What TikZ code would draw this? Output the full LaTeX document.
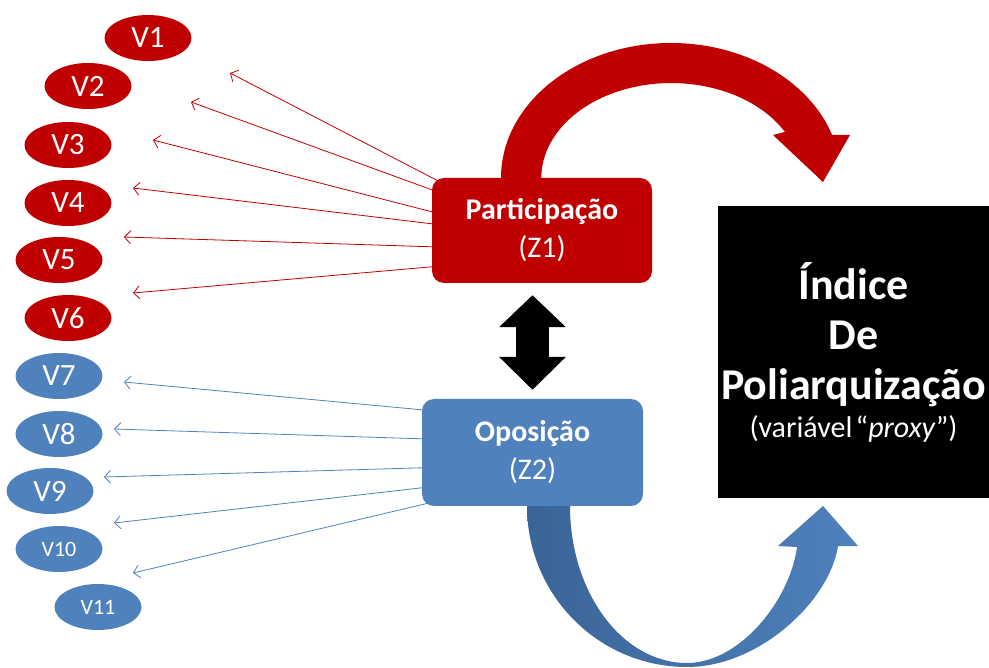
\documentclass[tikz,border=0pt]{standalone}
\usepackage{fontspec}
\setmainfont{Carlito}
\usetikzlibrary{arrows.meta,calc,shapes.geometric}
\definecolor{rd}{HTML}{C00000}
\definecolor{bl}{HTML}{4F81BD}
\definecolor{bldark}{HTML}{3A6496}
\begin{document}
\begin{tikzpicture}[x=1pt,y=-1pt,
  varr/.style={ellipse, fill=rd, text=white, minimum width=87pt, minimum height=46pt, inner sep=0pt, font=\fontsize{31}{31}\selectfont},
  varb/.style={varr, fill=bl},
  varbs/.style={varb, font=\fontsize{22}{22}\selectfont},
  zbox/.style={rounded corners=12pt, text=white, align=center, inner sep=0pt, font=\fontsize{30}{38}\selectfont},
  rline/.style={draw=rd, line width=0.8pt, -{Straight Barb[length=6pt,width=13pt]}},
  bline/.style={rline, draw=bl},
]
\useasboundingbox (0,0) rectangle (989,668);

% curved block arrows (behind boxes)
\fill[rd] (501,178) arc[start angle=180, end angle=341.4, x radius=170, y radius=135]
  -- (850,135) -- (823,182) -- (773,135) -- (785,132)
  arc[start angle=331, end angle=180, x radius=130, y radius=95] -- cycle;
\shade[left color=bldark, right color=bl]
  (527,506) arc[start angle=180, end angle=90, x radius=160, y radius=161]
  .. controls (760,667) and (830,600) .. (838,546)
  -- (858,546) -- (823,506) -- (778,546) -- (797,547)
  .. controls (790,600) and (740,663) .. (687,663)
  arc[start angle=90, end angle=180, x radius=117, y radius=157] -- cycle;

% variables
\node[varr] (V1) at (148,38) {V1};
\node[varr] (V2) at (88,86) {V2};
\node[varr] (V3) at (68,145) {V3};
\node[varr] (V4) at (68,203) {V4};
\node[varr] (V5) at (59,260) {V5};
\node[varr] (V6) at (68,318) {V6};
\node[varb] (V7) at (59,376) {V7};
\node[varb] (V8) at (59,434) {V8};
\node[varb] (V9) at (50,491) {V9};
\node[varbs] (V10) at (59,549) {V10};
\node[varbs] (V11) at (98,607) {V11};

% boxes
\node[zbox, fill=rd, minimum width=220pt, minimum height=105pt, text width=210pt] (Z1) at (542,230.5)
  {\textbf{Participação}\\(Z1)};
\node[zbox, fill=bl, minimum width=221pt, minimum height=107pt, text width=210pt] (Z2) at (532.5,452.5)
  {\textbf{Oposição}\\(Z2)};
\node[fill=black, text=white, minimum width=271pt, minimum height=292pt, inner sep=0pt, text width=268pt, align=center] (IDX) at (853.5,352)
  {{\bfseries\fontsize{44}{50}\selectfont Índice\\De\\Poliarquização\par}{\fontsize{30}{38}\selectfont (variável “\textit{proxy}”)\par}};

% double arrow between Z1 and Z2
\draw[line width=33pt, {Triangle[length=32pt,width=65pt]}-{Triangle[length=33pt,width=65pt]}, shorten <=12pt, shorten >=9pt]
  (Z1.south -| Z2.north) -- (Z2.north);

% connector coordinates
\coordinate (s1) at ($(Z1.north west)+(8,4)$);
\coordinate (s2) at ($(Z1.north west)+(0,12)$);
\coordinate (s3) at ($(Z1.north west)+(0,34)$);
\coordinate (s4) at ($(Z1.north west)+(0,46)$);
\coordinate (s5) at ($(Z1.north west)+(0,69)$);
\coordinate (s6) at ($(Z1.north west)+(0,89)$);
\coordinate (e1) at (230,73);
\coordinate (e2) at (191,102);
\coordinate (e3) at (153,140);
\coordinate (e4) at (133,188);
\coordinate (e5) at (124,237);
\coordinate (e6) at (133,293);
\coordinate (t7) at ($(Z2.north west)+(0,11)$);
\coordinate (t8) at ($(Z2.north west)+(0,40)$);
\coordinate (t9) at ($(Z2.north west)+(0,69)$);
\coordinate (t10) at ($(Z2.north west)+(0,89)$);
\coordinate (t11) at ($(Z2.north west)+(8,104)$);
\coordinate (f7) at (124,382);
\coordinate (f8) at (114,429);
\coordinate (f9) at (104,477);
\coordinate (f10) at (114,523);
\coordinate (f11) at (133,573);

\foreach \i in {1,...,6} \draw[rline] (s\i) -- (e\i);
\foreach \i in {7,...,11} \draw[bline] (t\i) -- (f\i);
\end{tikzpicture}
\end{document}
